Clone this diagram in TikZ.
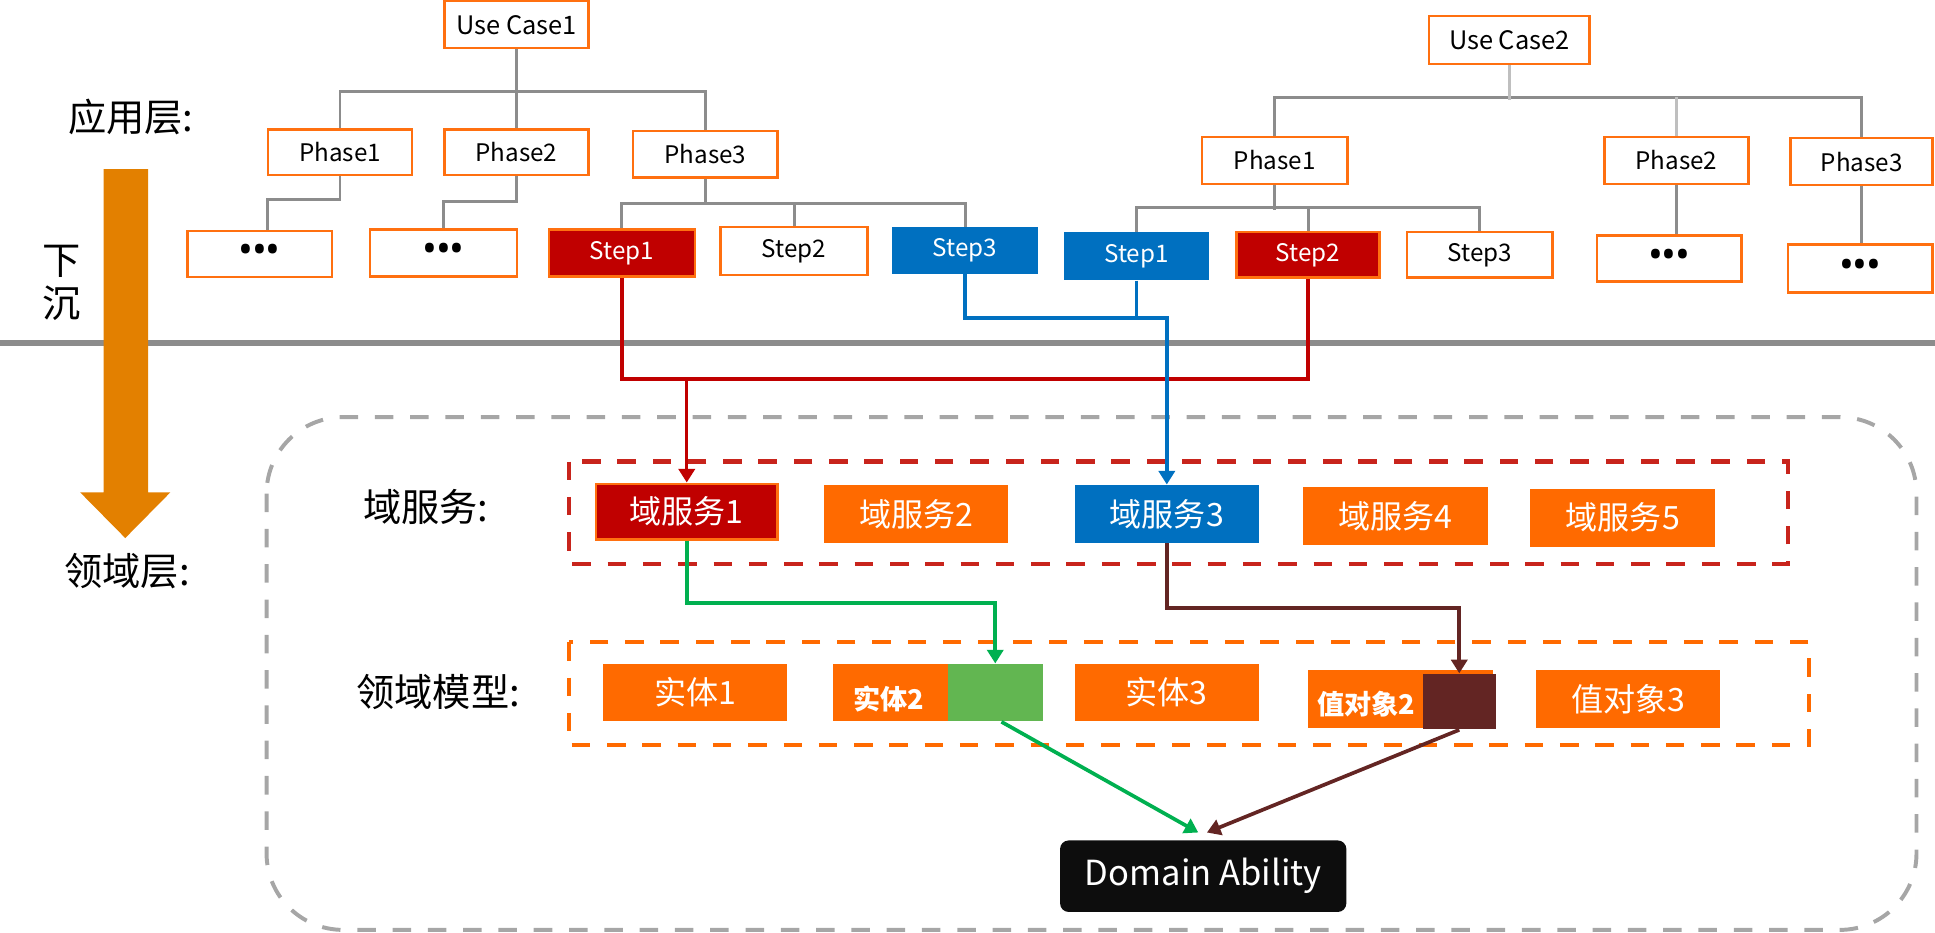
\documentclass[tikz,border=0pt]{standalone}
\usepackage{fontspec}
\setmainfont{Noto Sans CJK SC}
\newfontfamily\dotfont{Noto Sans}
\usetikzlibrary{arrows.meta,calc}
\definecolor{bord}{HTML}{FF7010}
\definecolor{ofill}{HTML}{FF6A00}
\definecolor{dred}{HTML}{C00000}
\definecolor{mblue}{HTML}{0070C0}
\definecolor{tgrey}{HTML}{8C8C8C}
\definecolor{lgrey}{HTML}{BFBFBF}
\definecolor{dgrey}{HTML}{A6A6A6}
\definecolor{arrorange}{HTML}{E38000}
\definecolor{gline}{HTML}{00B050}
\definecolor{gfill}{HTML}{62B651}
\definecolor{dbrown}{HTML}{632523}
\definecolor{dashred}{HTML}{C8241C}
\newcommand\bx[7]{\node[#6, minimum width={(#4-#2)*0.5pt}, minimum height={(#5-#3)*0.5pt}] (#1) at ({(#2+#4)/2},{(#3+#5)/2}) {#7};}
\newcommand\threedots{\dotfont\bfseries\fontsize{16}{18}\selectfont •\kern-0.6pt•\kern-0.6pt•}
\begin{document}
\begin{tikzpicture}[x=0.5pt,y=-0.5pt,
  wbox/.style={draw=bord, line width=1pt, fill=white, inner sep=0pt, font=\fontsize{9.8}{11}\selectfont},
  ucbox/.style={wbox, font=\fontsize{10.3}{12}\selectfont},
  rbox/.style={wbox, fill=dred, text=white},
  bbox/.style={fill=mblue, text=white, inner sep=0pt, font=\fontsize{9.8}{11}\selectfont},
  dotbox/.style={wbox},
  obox/.style={fill=ofill, text=white, inner sep=0pt, font=\fontsize{13}{15}\selectfont},
  rsbox/.style={obox, fill=dred, draw=bord, line width=1pt},
  btxt/.style={text=white, inner sep=0pt, font=\bfseries\fontsize{11}{13}\selectfont},
  lbl/.style={inner sep=0pt, font=\fontsize{15.5}{17.5}\selectfont},
  tree/.style={draw=tgrey, line width=1.2pt},
  ltree/.style={draw=lgrey, line width=1.2pt},
  redc/.style={draw=dred, line width=1.4pt},
  bluec/.style={draw=mblue, line width=1.4pt},
  greenc/.style={draw=gline, line width=1.5pt},
  brownc/.style={draw=dbrown, line width=1.5pt},
  arrowhd/.style={-{Triangle[length=5.5pt,width=6.5pt]}},
  dashbox/.style={line width=1.7pt, dash pattern=on 7.5pt off 6.8pt}]
\useasboundingbox (0,0) rectangle (1568,756);

% divider and sinking arrow
\draw[tgrey, line width=2.2pt] (0,278) -- (1568,278);
\fill[arrorange] (84,137) -- (120,137) -- (120,399) -- (138,399) -- (101.5,436) -- (65,399) -- (84,399) -- cycle;

% labels
\node[lbl] (lapp) at (106,95) {应用层:};
\node[lbl, align=center] (lsink) at (50,229) {下\\沉};
\node[lbl] (ldom) at (103,463) {领域层:};
\node[lbl] (lsvc) at (345,411) {域服务:};
\node[lbl] (lmod) at (355,561) {领域模型:};

% group frames
\draw[dgrey, dashbox, line width=1.6pt, rounded corners=31pt] (216,338) rectangle (1553,753.5);
\draw[dashred, dashbox] (461,374) rectangle (1449,457);
\draw[ofill, dashbox] (461,520.5) rectangle (1466,604);

% use case 1 tree
\bx{uc1}{360}{1}{477}{39}{ucbox}{Use Case1}
\bx{pa1}{217}{105}{334}{142}{wbox}{Phase1}
\bx{pa2}{360}{105}{477}{142}{wbox}{Phase2}
\bx{pa3}{513}{106}{630}{144}{wbox}{Phase3}
\bx{da1}{152}{187}{269}{224.5}{dotbox}{\threedots}
\bx{da2}{300}{186}{419}{224}{dotbox}{\threedots}
\bx{sa1}{445}{186}{563}{224}{rbox}{Step1}
\bx{sa2}{584}{184}{703}{223}{wbox}{Step2}
\bx{sa3}{723}{184}{841}{222}{bbox}{Step3}

% use case 2 tree
\bx{uc2}{1158}{13}{1288}{52}{ucbox}{Use Case2}
\bx{pb1}{974}{111}{1092}{149}{wbox}{Phase1}
\bx{pb2}{1300}{111}{1417}{149}{wbox}{Phase2}
\bx{pb3}{1451}{112}{1566}{150}{wbox}{Phase3}
\bx{sb1}{862}{188}{980}{227}{bbox}{Step1}
\bx{sb2}{1002}{188}{1118}{225}{rbox}{Step2}
\bx{sb3}{1140}{188}{1258}{225}{wbox}{Step3}
\bx{db2}{1294}{191}{1411}{228}{dotbox}{\threedots}
\bx{db3}{1449}{198}{1566}{237}{dotbox}{\threedots}

% tree connectors
\draw[tree] (uc1.south) -- (pa2.north);
\draw[tree] (pa1.north) |- ($(pa3.north)+(0,-31)$) -- (pa3.north);
\draw[tree] (pa1.south) |- ($(da1.north)+(6,-24)$) -- ($(da1.north)+(6,0)$);
\draw[tree] (pa2.south) |- ($(da2.north)+(0,-22)$) -- (da2.north);
\draw[tree] (pa3.south) -- ($(pa3.south)+(0,21)$);
\draw[tree] (sa1.north) |- ($(sa3.north)+(0,-19)$) -- (sa3.north);
\draw[tree] (sa2.north) -- ($(sa2.north)+(0,-19)$);
\draw[tree] (pb1.north) |- ($(pb3.north)+(0,-32)$) -- (pb3.north);
\draw[ltree] (uc2.south) -- ($(uc2.south)+(0,28)$);
\draw[ltree] (pb2.north) -- ($(pb2.north)+(0,-31)$);
\draw[tree] (pb1.south) -- ($(pb1.south)+(0,20)$);
\draw[tree] (sb1.north) |- ($(sb3.north)+(0,-19)$) -- (sb3.north);
\draw[tree] (sb2.north) -- ($(sb2.north)+(0,-19)$);
\draw[tree] (pb2.south) -- (pb2.south |- db2.north);
\draw[tree] (pb3.south) -- (pb3.south |- db3.north);

% domain services
\bx{ds1}{483}{392}{630}{437}{rsbox}{域服务1}
\bx{ds2}{668}{393}{817}{440}{obox}{域服务2}
\bx{ds3}{871}{393}{1020}{440}{obox, fill=mblue}{域服务3}
\bx{ds4}{1056}{394.5}{1206}{441.5}{obox}{域服务4}
\bx{ds5}{1240}{396}{1390}{443}{obox}{域服务5}

% domain model
\bx{en1}{489}{538}{638}{584.5}{obox}{实体1}
\bx{en2}{675}{538}{768}{584.5}{obox}{}
\node[btxt] (en2t) at (720,566.5) {实体2};
\bx{en2g}{768}{538}{845}{584.5}{fill=gfill}{}
\bx{en3}{871}{538}{1020}{584.5}{obox}{实体3}
\bx{vo2}{1060}{543}{1210}{590}{obox}{}
\node[btxt] (vo2t) at (1107,570.5) {值对象2};
\bx{vo2b}{1153}{546}{1212}{591}{fill=dbrown}{}
\bx{vo3}{1245}{543}{1394}{590}{obox}{值对象3}

\bx{dab}{859}{681}{1091}{739}{fill=black!95, rounded corners=3.5pt, text=white, inner sep=0pt, font=\fontsize{14}{16}\selectfont}{Domain Ability}

% coloured connectors
\draw[redc] (sa1.south) |- ($(sb2.south)+(0,81)$) -- (sb2.south);
\draw[redc, arrowhd] ($(sb2.south)+(0,81)$) -| (ds1.north);
\draw[bluec, arrowhd] (sa3.south) |- ($(ds3.north)+(0,-135)$) -- (ds3.north);
\draw[bluec] (sb1.south) -- ($(sb1.south)+(0,31)$);
\draw[greenc, arrowhd] (ds1.south) |- ($(en2g.north)+(0,-49)$) -- (en2g.north);
\draw[brownc, arrowhd] (ds3.south) |- ($(vo2b.north)+(0,-53)$) -- (vo2b.north);
\draw[greenc, arrowhd] ($(en2g.south)+(5,0)$) -- ($(dab.north)+(-4,-6)$);
\draw[brownc, arrowhd] (vo2b.south) -- ($(dab.north)+(3,-6)$);
\end{tikzpicture}
\end{document}
